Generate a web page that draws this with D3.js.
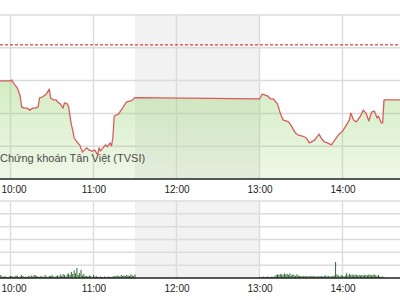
<!DOCTYPE html>
<html lang="vi">
<head>
    <meta charset="UTF-8">
    <script src="https://d3js.org/d3.v7.min.js"></script>
    <title>VN-Index trong phiên</title>
    <style>
        body { margin: 0; background: #fff; }
        svg { display: block; font-family: "Liberation Sans Narrow", "Liberation Sans", Arial, sans-serif; }
    </style>
</head>
<body>
    <script>
        // Gia chi so trong phien (gio, diem)
        var priceTimes = ["09:50", "10:00", "10:01", "10:02", "10:05", "10:07", "10:08", "10:10", "10:12", "10:14",
            "10:16", "10:18", "10:20", "10:21", "10:23", "10:26", "10:28", "10:29", "10:31", "10:33",
            "10:34", "10:36", "10:38", "10:39", "10:41", "10:42", "10:44", "10:45", "10:46", "10:48",
            "10:50", "10:52", "10:55", "10:57", "10:59", "11:01", "11:03", "11:04", "11:05", "11:08",
            "11:09", "11:10", "11:12", "11:13", "11:14", "11:15", "11:18", "11:20", "11:22", "11:24",
            "11:27", "11:28", "11:30",
            "13:00", "13:02", "13:04", "13:06", "13:08", "13:10", "13:13", "13:15", "13:17", "13:21",
            "13:23", "13:26", "13:28", "13:31", "13:34", "13:36", "13:39", "13:41", "13:43", "13:45",
            "13:47", "13:49", "13:52", "13:55", "13:57", "14:00", "14:02", "14:05", "14:06", "14:08",
            "14:10", "14:13", "14:15", "14:17", "14:19", "14:21", "14:23", "14:25", "14:26", "14:28",
            "14:29", "14:30", "14:45"];
        var priceValues = [1057.99, 1057.99, 1058.02, 1057.93, 1057.77, 1057.53, 1057.20, 1057.16, 1057.16, 1057.10,
            1057.16, 1057.16, 1057.20, 1057.47, 1057.50, 1057.59, 1057.74, 1057.47, 1057.41, 1057.41,
            1057.35, 1057.29, 1057.16, 1057.32, 1057.29, 1057.20, 1056.65, 1056.49, 1056.25, 1056.13,
            1056.04, 1055.82, 1055.95, 1055.88, 1055.85, 1055.88, 1055.73, 1055.95, 1055.85, 1056.01,
            1056.04, 1055.98, 1056.10, 1056.01, 1056.25, 1056.92, 1056.98, 1057.10, 1057.23, 1057.35,
            1057.38, 1057.41, 1057.48,
            1057.44, 1057.59, 1057.56, 1057.53, 1057.44, 1057.44, 1057.29, 1057.01, 1056.80, 1056.74,
            1056.62, 1056.40, 1056.34, 1056.31, 1056.25, 1056.10, 1056.16, 1056.25, 1056.37, 1056.22,
            1056.13, 1056.10, 1056.04, 1056.22, 1056.34, 1056.46, 1056.59, 1056.80, 1057.01, 1056.80,
            1056.74, 1056.92, 1057.10, 1057.01, 1056.77, 1057.04, 1057.07, 1056.86, 1056.92, 1056.71,
            1056.71, 1057.41, 1057.41];
        var refPrice = 1059.09;

        // Khoi luong theo phut
        var volStartAM = "09:53";
        var volAM = [2.4, 1.2, 0.8, 1.6, 0.8, 0.8, 1.2, 1.6,
            1.6, 0.8, 1.2, 2.0, 1.6, 0.8, 1.2, 2.4, 1.6, 0.8, 1.2, 0.8, 1.6, 1.2,
            2.0, 1.2, 2.4, 2.0, 1.6, 1.2, 0.8, 1.6, 1.2, 0.8, 2.4, 1.2, 0.8, 1.6,
            1.6, 2.4, 1.2, 0.8, 1.6, 2.0, 1.2, 2.8, 1.6, 3.2, 2.4, 1.2, 2.8, 3.6, 2.4,
            4.8, 3.2, 6.0, 3.6, 7.8, 2.4, 4.0, 6.4, 2.0, 3.2, 1.6,
            1.6, 1.2, 2.0, 1.6, 0.8, 2.4, 1.2, 1.6, 0.8, 0.8, 1.2, 0.8, 0.8, 1.2, 0.8, 0.8, 1.2, 0.8,
            0.8, 1.2, 1.6, 1.2, 2.0, 1.6, 1.2, 2.4, 1.6, 2.0, 1.6, 2.4, 2.0, 1.6, 2.8, 2.0, 1.6, 2.8];
        var volStartPM = "13:00";
        var volPM = [0.8, 0.8, 0.8, 1.2, 0.8, 0.8, 1.2, 0.8, 0.8, 1.2, 0.8, 1.2,
            2.4, 2.8, 2.4, 3.2, 2.8, 2.4, 3.6, 2.8, 3.2, 2.4, 3.6, 2.0, 2.8, 2.4, 1.6, 2.8, 2.0, 1.6,
            1.6, 1.2, 1.6, 1.6, 1.2, 1.6, 1.2, 1.6, 1.6, 1.2, 1.6, 1.2, 1.2, 1.6, 1.2, 1.6, 1.2, 1.6, 2.0, 1.2, 1.6, 1.2, 1.2, 1.6,
            2.0, 12.5, 2.8, 2.0, 1.2, 2.4, 1.6, 1.2, 2.0,
            4.0, 2.0, 3.2, 2.4, 2.8, 2.0, 2.8, 2.4, 2.0, 2.4, 2.0, 2.4, 2.0, 2.4, 2.4, 2.0, 2.8, 2.4, 2.0, 2.4, 2.8, 2.0, 1.6, 2.4, 1.2, 0.8, 1.2, 0.8];

        var hourTicks = ["10:00", "11:00", "12:00", "13:00", "14:00"];
        var priceGrid = [1056, 1057, 1058, 1059, 1060];
        var volGrid = [10, 20, 30, 40, 50, 60];
        var lunch = ["11:30", "13:00"];
        var watermark = "Chứng khoán Tân Việt (TVSI)";

        function toMin(s) {
            var p = s.split(":");
            return +p[0] * 60 + +p[1];
        }

        var width = 400, height = 300;
        var svg = d3.select("body").append("svg")
            .attr("width", width)
            .attr("height", height);

        var x = d3.scaleLinear().domain([600, 840]).range([10.5, 342.5]);
        var y = d3.scaleLinear().domain([1055, 1060]).range([179, 15]);
        var yv = d3.scaleLinear().domain([0, 60]).range([278, 201]);

        var prices = priceTimes.map(function (t, i) { return { t: toMin(t), v: priceValues[i] }; });
        var vols = [];
        volAM.forEach(function (v, i) { vols.push({ t: toMin(volStartAM) + i, v: v }); });
        volPM.forEach(function (v, i) { vols.push({ t: toMin(volStartPM) + i, v: v }); });

        // nghi trua
        var lx0 = x(toMin(lunch[0])), lx1 = x(toMin(lunch[1]));
        svg.append("rect").attr("x", lx0).attr("y", y(1060)).attr("width", lx1 - lx0)
            .attr("height", y(1055) - y(1060)).attr("fill", "#f2f2f2");
        svg.append("rect").attr("x", lx0).attr("y", yv(60)).attr("width", lx1 - lx0)
            .attr("height", yv(0) - yv(60)).attr("fill", "#f2f2f2");

        // luoi
        var grid = svg.append("g").attr("stroke", "#dcdcdc").attr("stroke-width", 1.5);
        grid.selectAll(".hp").data(priceGrid).join("line").attr("class", "hp")
            .attr("x1", 0).attr("x2", width)
            .attr("y1", function (d) { return y(d); }).attr("y2", function (d) { return y(d); });
        grid.selectAll(".hv").data(volGrid).join("line").attr("class", "hv")
            .attr("x1", 0).attr("x2", width)
            .attr("y1", function (d) { return yv(d); }).attr("y2", function (d) { return yv(d); });
        grid.selectAll(".vp").data(hourTicks).join("line").attr("class", "vp")
            .attr("x1", function (d) { return x(toMin(d)); }).attr("x2", function (d) { return x(toMin(d)); })
            .attr("y1", y(1060)).attr("y2", y(1055));
        grid.selectAll(".vv").data(hourTicks).join("line").attr("class", "vv")
            .attr("x1", function (d) { return x(toMin(d)); }).attr("x2", function (d) { return x(toMin(d)); })
            .attr("y1", yv(60)).attr("y2", yv(0));

        // vung mau xanh
        var grad = svg.append("defs").append("linearGradient")
            .attr("id", "fillGrad").attr("gradientUnits", "userSpaceOnUse")
            .attr("x1", 0).attr("x2", 0).attr("y1", y(1060)).attr("y2", y(1055));
        grad.append("stop").attr("offset", "0%").attr("stop-color", "#96d26e").attr("stop-opacity", 0.58);
        grad.append("stop").attr("offset", "100%").attr("stop-color", "#96d26e").attr("stop-opacity", 0.16);

        svg.append("path").datum(prices)
            .attr("fill", "url(#fillGrad)")
            .attr("d", d3.area()
                .x(function (d) { return x(d.t); })
                .y0(y(1055))
                .y1(function (d) { return y(d.v); }));

        // watermark
        svg.append("text").attr("x", 0).attr("y", 162)
            .attr("font-size", 11).attr("fill", "#4a4a4a")
            .text(watermark);

        svg.append("path").datum(prices)
            .attr("fill", "none")
            .attr("stroke", "#d65c5c")
            .attr("stroke-width", 1.3)
            .attr("stroke-linejoin", "round")
            .attr("d", d3.line()
                .x(function (d) { return x(d.t); })
                .y(function (d) { return y(d.v); }));

        // gia tham chieu
        svg.append("line")
            .attr("x1", 0).attr("x2", width)
            .attr("y1", y(refPrice)).attr("y2", y(refPrice))
            .attr("stroke", "#dd1111").attr("stroke-width", 1)
            .attr("stroke-dasharray", "3,2");

        // khoi luong
        svg.append("g").selectAll("rect").data(vols).join("rect")
            .attr("x", function (d) { return x(d.t) - 0.5; })
            .attr("width", 1)
            .attr("y", function (d) { return yv(d.v); })
            .attr("height", function (d) { return yv(0) - yv(d.v); })
            .attr("fill", "#2f6b2f");

        // truc thoi gian
        function timeAxis(yPos) {
            var ax = d3.axisBottom(x)
                .tickValues(hourTicks.map(toMin))
                .tickFormat(function (d, i) { return hourTicks[i]; })
                .tickSize(0).tickPadding(7);
            var g = svg.append("g").attr("transform", "translate(0," + yPos + ")").call(ax);
            g.select(".domain").remove();
            g.selectAll("text").attr("font-size", 10).attr("fill", "#222").attr("font-family", null);
            // nhan dau tien sat mep trai: neo tu x = 1
            g.selectAll("text").filter(function (d, i) { return i === 0; })
                .attr("text-anchor", "start")
                .attr("x", 1 - x(toMin(hourTicks[0])));
            svg.append("line").attr("x1", 0).attr("x2", width)
                .attr("y1", yPos).attr("y2", yPos)
                .attr("stroke", "#222").attr("stroke-width", 1.5);
        }
        timeAxis(179);
        timeAxis(278);
    </script>
</body>
</html>
